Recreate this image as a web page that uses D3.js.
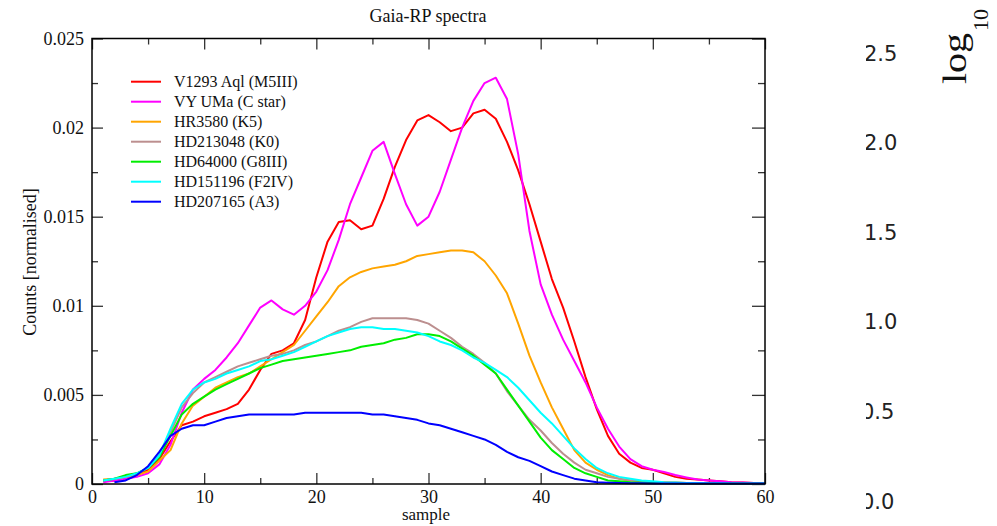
<!DOCTYPE html>
<html><head><meta charset="utf-8">
<script src="https://cdn.jsdelivr.net/npm/d3@7"></script>
<style>body{margin:0;background:#fff;} svg{display:block;}</style>
</head><body>
<svg id="c" width="997" height="526"></svg>
<script>
const samples = [1,2,3,4,5,6,7,8,9,10,11,12,13,14,15,16,17,18,19,20,21,22,23,24,25,26,27,28,29,30,31,32,33,34,35,36,37,38,39,40,41,42,43,44,45,46,47,48,49,50,51,52,53,54,55,56,57,58,59,60];

const seriesNames = ["V1293 Aql (M5III)","VY UMa (C star)","HR3580 (K5)","HD213048 (K0)","HD64000 (G8III)","HD151196 (F2IV)","HD207165 (A3)"];
const seriesColors = ["#ff0000","#ff00ff","#ffa500","#bc8f8f","#00ee00","#00ffff","#0000ff"];

const v1293Aql = [0.00015,0.0002,0.0003,0.0005,0.0008,0.0014,0.0024,0.0033,0.0035,0.0038,0.0040,0.0042,0.0045,0.0053,0.0064,0.0073,0.0075,0.0079,0.0092,0.0116,0.0136,0.0147,0.0148,0.0143,0.0145,0.0160,0.0178,0.0193,0.0204,0.0207,0.0203,0.0198,0.0200,0.0208,0.0210,0.0205,0.0192,0.0176,0.0157,0.0136,0.0115,0.0099,0.0080,0.0060,0.0042,0.0027,0.0017,0.0012,0.0009,0.0008,0.0006,0.0004,0.0003,0.00025,0.0002,0.00015,0.0001,0.00008,0.00005,0.00003];
const vyUMa = [0.0001,0.0002,0.0003,0.0004,0.0006,0.0011,0.0022,0.0040,0.0053,0.0059,0.0064,0.0071,0.0079,0.0089,0.0099,0.0103,0.0098,0.0095,0.0100,0.0108,0.0120,0.0137,0.0157,0.0172,0.0187,0.0192,0.0174,0.0157,0.0145,0.0150,0.0164,0.0182,0.0200,0.0215,0.0225,0.0228,0.0216,0.0185,0.0142,0.0112,0.0095,0.0081,0.0069,0.0057,0.0043,0.0031,0.0021,0.0014,0.0010,0.0008,0.00067,0.0005,0.00037,0.00025,0.0002,0.00015,0.0001,0.00008,0.00005,0.00003];
const hr3580 = [0.00025,0.0003,0.0004,0.0005,0.0007,0.0013,0.0019,0.0034,0.0044,0.0049,0.0054,0.0057,0.0060,0.0062,0.0066,0.0070,0.0074,0.0078,0.0086,0.0094,0.0102,0.0111,0.0116,0.0119,0.0121,0.0122,0.0123,0.0125,0.0128,0.0129,0.0130,0.0131,0.0131,0.0130,0.0125,0.0117,0.0107,0.0090,0.0072,0.0057,0.0043,0.0031,0.0019,0.0012,0.0008,0.0005,0.0003,0.0002,0.00015,0.0001,0.0001,0.00008,0.00006,0.00005,0.00004,0.00004,0.00003,0.00003,0.00003,0.00003];
const hd213048 = [0.0002,0.0003,0.0004,0.0006,0.0009,0.0016,0.0029,0.0043,0.0051,0.0057,0.0060,0.0063,0.0066,0.0068,0.0070,0.0072,0.0073,0.0075,0.0078,0.0080,0.0083,0.0086,0.0088,0.0091,0.0093,0.0093,0.0093,0.0093,0.0092,0.0090,0.0086,0.0082,0.0077,0.0073,0.0068,0.0062,0.0052,0.0044,0.0036,0.0030,0.0023,0.0017,0.0012,0.0008,0.0006,0.0004,0.0003,0.0002,0.00015,0.0001,0.0001,0.00008,0.00006,0.00005,0.00004,0.00004,0.00003,0.00003,0.00003,0.00003];
const hd64000 = [0.0002,0.0003,0.0005,0.0006,0.0009,0.0015,0.0027,0.0039,0.0045,0.0049,0.0053,0.0056,0.0059,0.0062,0.0065,0.0067,0.0069,0.0070,0.0071,0.0072,0.0073,0.0074,0.0075,0.0077,0.0078,0.0079,0.0081,0.0082,0.0084,0.0084,0.0083,0.0080,0.0076,0.0072,0.0067,0.0062,0.0053,0.0044,0.0035,0.0026,0.0019,0.0014,0.0009,0.0006,0.0004,0.0002,0.00015,0.0001,0.00008,0.00006,0.00005,0.00004,0.00004,0.00003,0.00003,0.00003,0.00003,0.00003,0.00003,0.00003];
const hd151196 = [0.0002,0.0003,0.0004,0.0006,0.0009,0.0016,0.0031,0.0045,0.0053,0.0057,0.0059,0.0062,0.0064,0.0066,0.0069,0.0070,0.0072,0.0074,0.0077,0.0080,0.0083,0.0085,0.0087,0.0088,0.0088,0.0087,0.0087,0.0086,0.0085,0.0083,0.0080,0.0078,0.0075,0.0071,0.0068,0.0064,0.0060,0.0054,0.0047,0.0040,0.0034,0.0027,0.0020,0.0014,0.0009,0.0006,0.0004,0.0003,0.0002,0.00015,0.0001,0.00008,0.00006,0.00005,0.00004,0.00004,0.00003,0.00003,0.00003,0.00003];
const hd207165 = [null,0.0001,0.0002,0.0005,0.0010,0.0018,0.0027,0.0031,0.0033,0.0033,0.0035,0.0037,0.0038,0.0039,0.0039,0.0039,0.0039,0.0039,0.0040,0.0040,0.0040,0.0040,0.0040,0.0040,0.0039,0.0039,0.0038,0.0037,0.0036,0.0034,0.0033,0.0031,0.0029,0.0027,0.0025,0.0022,0.0018,0.0015,0.0013,0.0010,0.0007,0.0005,0.0003,0.0002,0.0001,0.00007,0.00005,0.00004,0.00004,0.00003,0.00003,0.00003,0.00003,0.00003,0.00003,0.00003,0.00003,0.00003,0.00003,0.00003];

const seriesValues = [v1293Aql, vyUMa, hr3580, hd213048, hd64000, hd151196, hd207165];

const xMajorTicks = [0,10,20,30,40,50,60];
const xMinorTicks = [5,15,25,35,45,55];
const yMajorTicks = [0,0.005,0.01,0.015,0.02,0.025];
const yTickLabels = ["0","0.005","0.01","0.015","0.02","0.025"];
const yMinorTicks = [0.0025,0.0075,0.0125,0.0175,0.0225];
const sideValues = [2.5,2.0,1.5,1.0,0.5,0.0];
const sideLabels = ["2.5","2.0","1.5","1.0","0.5","0.0"];

const svg = d3.select("#c");
const L = 92, R = 765, T = 38.5, B = 484;
const x = d3.scaleLinear().domain([0,60]).range([L,R]);
const y = d3.scaleLinear().domain([0,0.025]).range([B,T]);
const serif = "'Liberation Serif','Times New Roman',serif";
const tickCol = "#333";

function styleAxis(g){
  g.select(".domain").remove();
  g.selectAll(".tick line").attr("stroke", tickCol).attr("stroke-width",1.3);
  g.selectAll("text").attr("font-family", serif).attr("font-size", 18).attr("fill","#111");
}
// bottom
svg.append("g").attr("transform",`translate(0,${B})`)
  .call(d3.axisBottom(x).tickValues(xMajorTicks).tickSize(-11).tickPadding(6).tickFormat(d3.format("d")))
  .call(styleAxis);
svg.append("g").attr("transform",`translate(0,${B})`)
  .call(d3.axisBottom(x).tickValues(xMinorTicks).tickSize(-6).tickFormat(""))
  .call(styleAxis);
// top
svg.append("g").attr("transform",`translate(0,${T})`)
  .call(d3.axisTop(x).tickValues(xMajorTicks).tickSize(-11).tickFormat(""))
  .call(styleAxis);
svg.append("g").attr("transform",`translate(0,${T})`)
  .call(d3.axisTop(x).tickValues(xMinorTicks).tickSize(-6).tickFormat(""))
  .call(styleAxis);
// left
svg.append("g").attr("transform",`translate(${L},0)`)
  .call(d3.axisLeft(y).tickValues(yMajorTicks).tickSize(-11).tickPadding(8).tickFormat((d,i)=>yTickLabels[i]))
  .call(styleAxis);
svg.append("g").attr("transform",`translate(${L},0)`)
  .call(d3.axisLeft(y).tickValues(yMinorTicks).tickSize(-6).tickFormat(""))
  .call(styleAxis);
// right
svg.append("g").attr("transform",`translate(${R},0)`)
  .call(d3.axisRight(y).tickValues(yMajorTicks).tickSize(-13).tickFormat(""))
  .call(styleAxis);
svg.append("g").attr("transform",`translate(${R},0)`)
  .call(d3.axisRight(y).tickValues(yMinorTicks).tickSize(-7).tickFormat(""))
  .call(styleAxis);

// lines
const line = d3.line().defined(d => d[1] !== null).x(d => x(d[0])).y(d => y(d[1]));
seriesValues.forEach((vals, i) => {
  svg.append("path")
    .datum(samples.map((s, j) => [s, vals[j]]))
    .attr("fill","none").attr("stroke", seriesColors[i]).attr("stroke-width",2)
    .attr("stroke-linejoin","round")
    .attr("d", line);
});

// frame
svg.append("rect").attr("x",L).attr("y",T).attr("width",R-L).attr("height",B-T)
  .attr("fill","none").attr("stroke","#000").attr("stroke-width",1.5);

// title and axis labels
svg.append("text").attr("x",428).attr("y",22).attr("text-anchor","middle")
  .attr("font-family",serif).attr("font-size",18).attr("fill","#111").text("Gaia-RP spectra");
svg.append("text").attr("x",426).attr("y",520).attr("text-anchor","middle")
  .attr("font-family",serif).attr("font-size",17).attr("fill","#111").text("sample");
svg.append("text").attr("transform","translate(36,262) rotate(-90)").attr("text-anchor","middle")
  .attr("font-family",serif).attr("font-size",18).attr("fill","#111").text("Counts [normalised]");

// legend
const leg = svg.append("g");
seriesNames.forEach((n, i) => {
  const yy = 81.7 + i*20;
  leg.append("line").attr("x1",131).attr("x2",161).attr("y1",yy).attr("y2",yy)
    .attr("stroke",seriesColors[i]).attr("stroke-width",2);
  leg.append("text").attr("x",174).attr("y",yy+5.5)
    .attr("font-family",serif).attr("font-size",16).attr("fill","#111").text(n);
});

// right-side fragment
const defs = svg.append("defs");
defs.append("clipPath").attr("id","sideclip").append("rect")
  .attr("x",866).attr("y",0).attr("width",131).attr("height",526);
const ys = d3.scaleLinear().domain([0,2.5]).range([501,53]);
const side = svg.append("g").attr("clip-path","url(#sideclip)");
side.selectAll("text.side").data(sideValues).join("text")
  .attr("class","side")
  .attr("x", d => d < 1 ? 861 : 864)
  .attr("y", d => ys(d)).attr("dy","0.36em")
  .attr("font-family","'DejaVu Sans',sans-serif").attr("font-size",21).attr("fill","#222")
  .text((d,i) => sideLabels[i]);
svg.append("text").attr("transform","translate(966,84) rotate(-90) scale(1,0.82)")
  .attr("font-family",serif).attr("font-size",40).attr("fill","#111").text("log");
svg.append("text").attr("transform","translate(988,31) rotate(-90)")
  .attr("font-family",serif).attr("font-size",22).attr("fill","#111").text("10");
</script>
</body></html>
